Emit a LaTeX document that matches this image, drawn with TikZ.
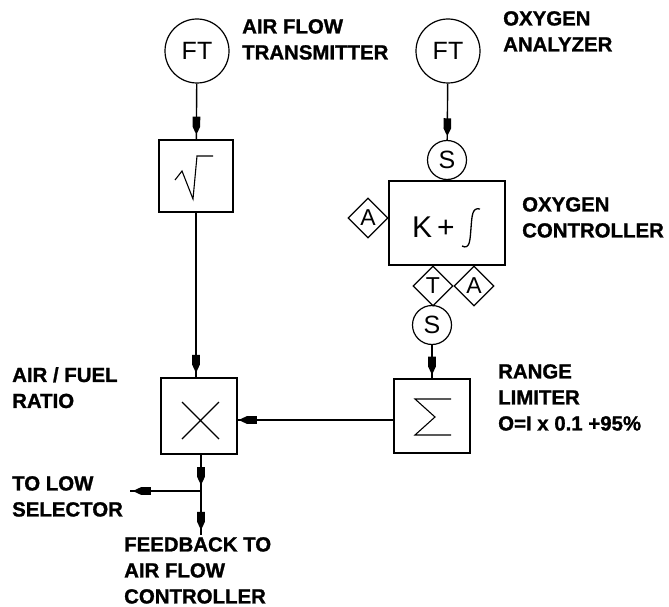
\documentclass[tikz,border=0pt]{standalone}
\usepackage{fontspec}
\setmainfont{Liberation Sans}
\newfontfamily\labfont{Liberation Sans Bold}[FakeBold=1.2]
\usetikzlibrary{arrows.meta,decorations.markings,shapes.geometric}
\tikzset{
  x=1pt,y=-1pt,
  sym/.style={line width=1.1pt},
  box/.style={draw,line width=1.3pt,rectangle,inner sep=0pt},
  ring/.style={draw,line width=1.2pt,circle,inner sep=0pt,minimum size=#1,font=\fontsize{25}{25}\selectfont},
  gem/.style={draw,line width=1.2pt,diamond,inner sep=0pt,minimum size=40pt,font=\fontsize{23}{23}\selectfont},
  lab/.style={anchor=north west,align=left,inner sep=0pt,font=\fontsize{20.4}{26}\selectfont\labfont},
  flow/.style={line width=1.4pt,postaction={decorate},decoration={markings,mark=at position #1 with {\fill (-16,-3.8) -- (-6,-3.8) -- (0,-1) -- (0,1) -- (-6,3.8) -- (-16,3.8) -- cycle;}}},
  heavy/.style={line width=2pt},
}
\begin{document}
\begin{tikzpicture}
\useasboundingbox (0,0) rectangle (669,607);
\node[ring=64pt] (ft1) at (197,51) {FT};
\node[ring=64pt] (ft2) at (448,51) {FT};
\node[ring=39pt] (s1) at (447,160) {S};
\node[ring=39pt] (s2) at (432,325) {S};
\node[box,minimum width=74pt,minimum height=72pt] (root) at (196,176) {};
\node[box,minimum width=116pt,minimum height=84pt] (pi) at (447,223) {};
\node[inner sep=0pt,anchor=base west,font=\fontsize{30}{30}\selectfont] (kp) at (412,237) {K\,+};
\node[gem] (a1) at (368,218) {A};
\node[gem] (t) at (433,286) {T};
\node[gem] (a2) at (474,286) {A};
\node[box,minimum width=76pt,minimum height=74pt] (sum) at (432,416) {};
\node[box,minimum width=76pt,minimum height=76pt] (mul) at (199,416) {};
\coordinate (low) at (130,491);
\coordinate (fb) at (201,535);
\coordinate (tee) at (201,491);
% symbols
\draw[sym] (175,180) -- (182,171) -- (193,199) -- (197,156) -- (213,156);
\draw[sym] (182,402) -- (219,439) (182,439) -- (219,402);
\draw[sym] (451,399) -- (415,399) -- (435,417) -- (415,435) -- (451,435);
\draw[line width=1.3pt] (480,209) .. controls (472,207) and (472,216) .. (471,228) .. controls (470,240) and (470,250) .. (462,246);
% connectors
\draw[flow=0.88] (ft1) -- (root);
\draw[flow=0.9] (ft2) -- (s1);
\draw[flow=0.96] (root.south) -- (root.south |- mul.north);
\draw[flow=0.83] (s2) -- (sum);
\draw[flow=0.98] (sum.west |- 0,420) -- (mul.east |- 0,420);
\draw[flow=0.78,heavy] (mul.south -| tee) -- (tee);
\draw[flow=0.84,heavy] (tee) -- (fb);
\draw[flow=0.93] (tee) -- (low);
% labels
\node[lab] (l1) at (242,19) {AIR FLOW\\TRANSMITTER};
\node[lab] (l2) at (503,11) {OXYGEN\\ANALYZER};
\node[lab] (l3) at (522,197) {OXYGEN\\CONTROLLER};
\node[lab] (l4) at (12,367) {AIR / FUEL\\RATIO};
\node[lab] (l5) at (498,364) {RANGE\\LIMITER\\O=I x 0.1 +95\%};
\node[lab] (l6) at (12,476) {TO LOW\\SELECTOR};
\node[lab] (l7) at (124,537) {FEEDBACK TO\\AIR FLOW\\CONTROLLER};
\end{tikzpicture}
\end{document}
